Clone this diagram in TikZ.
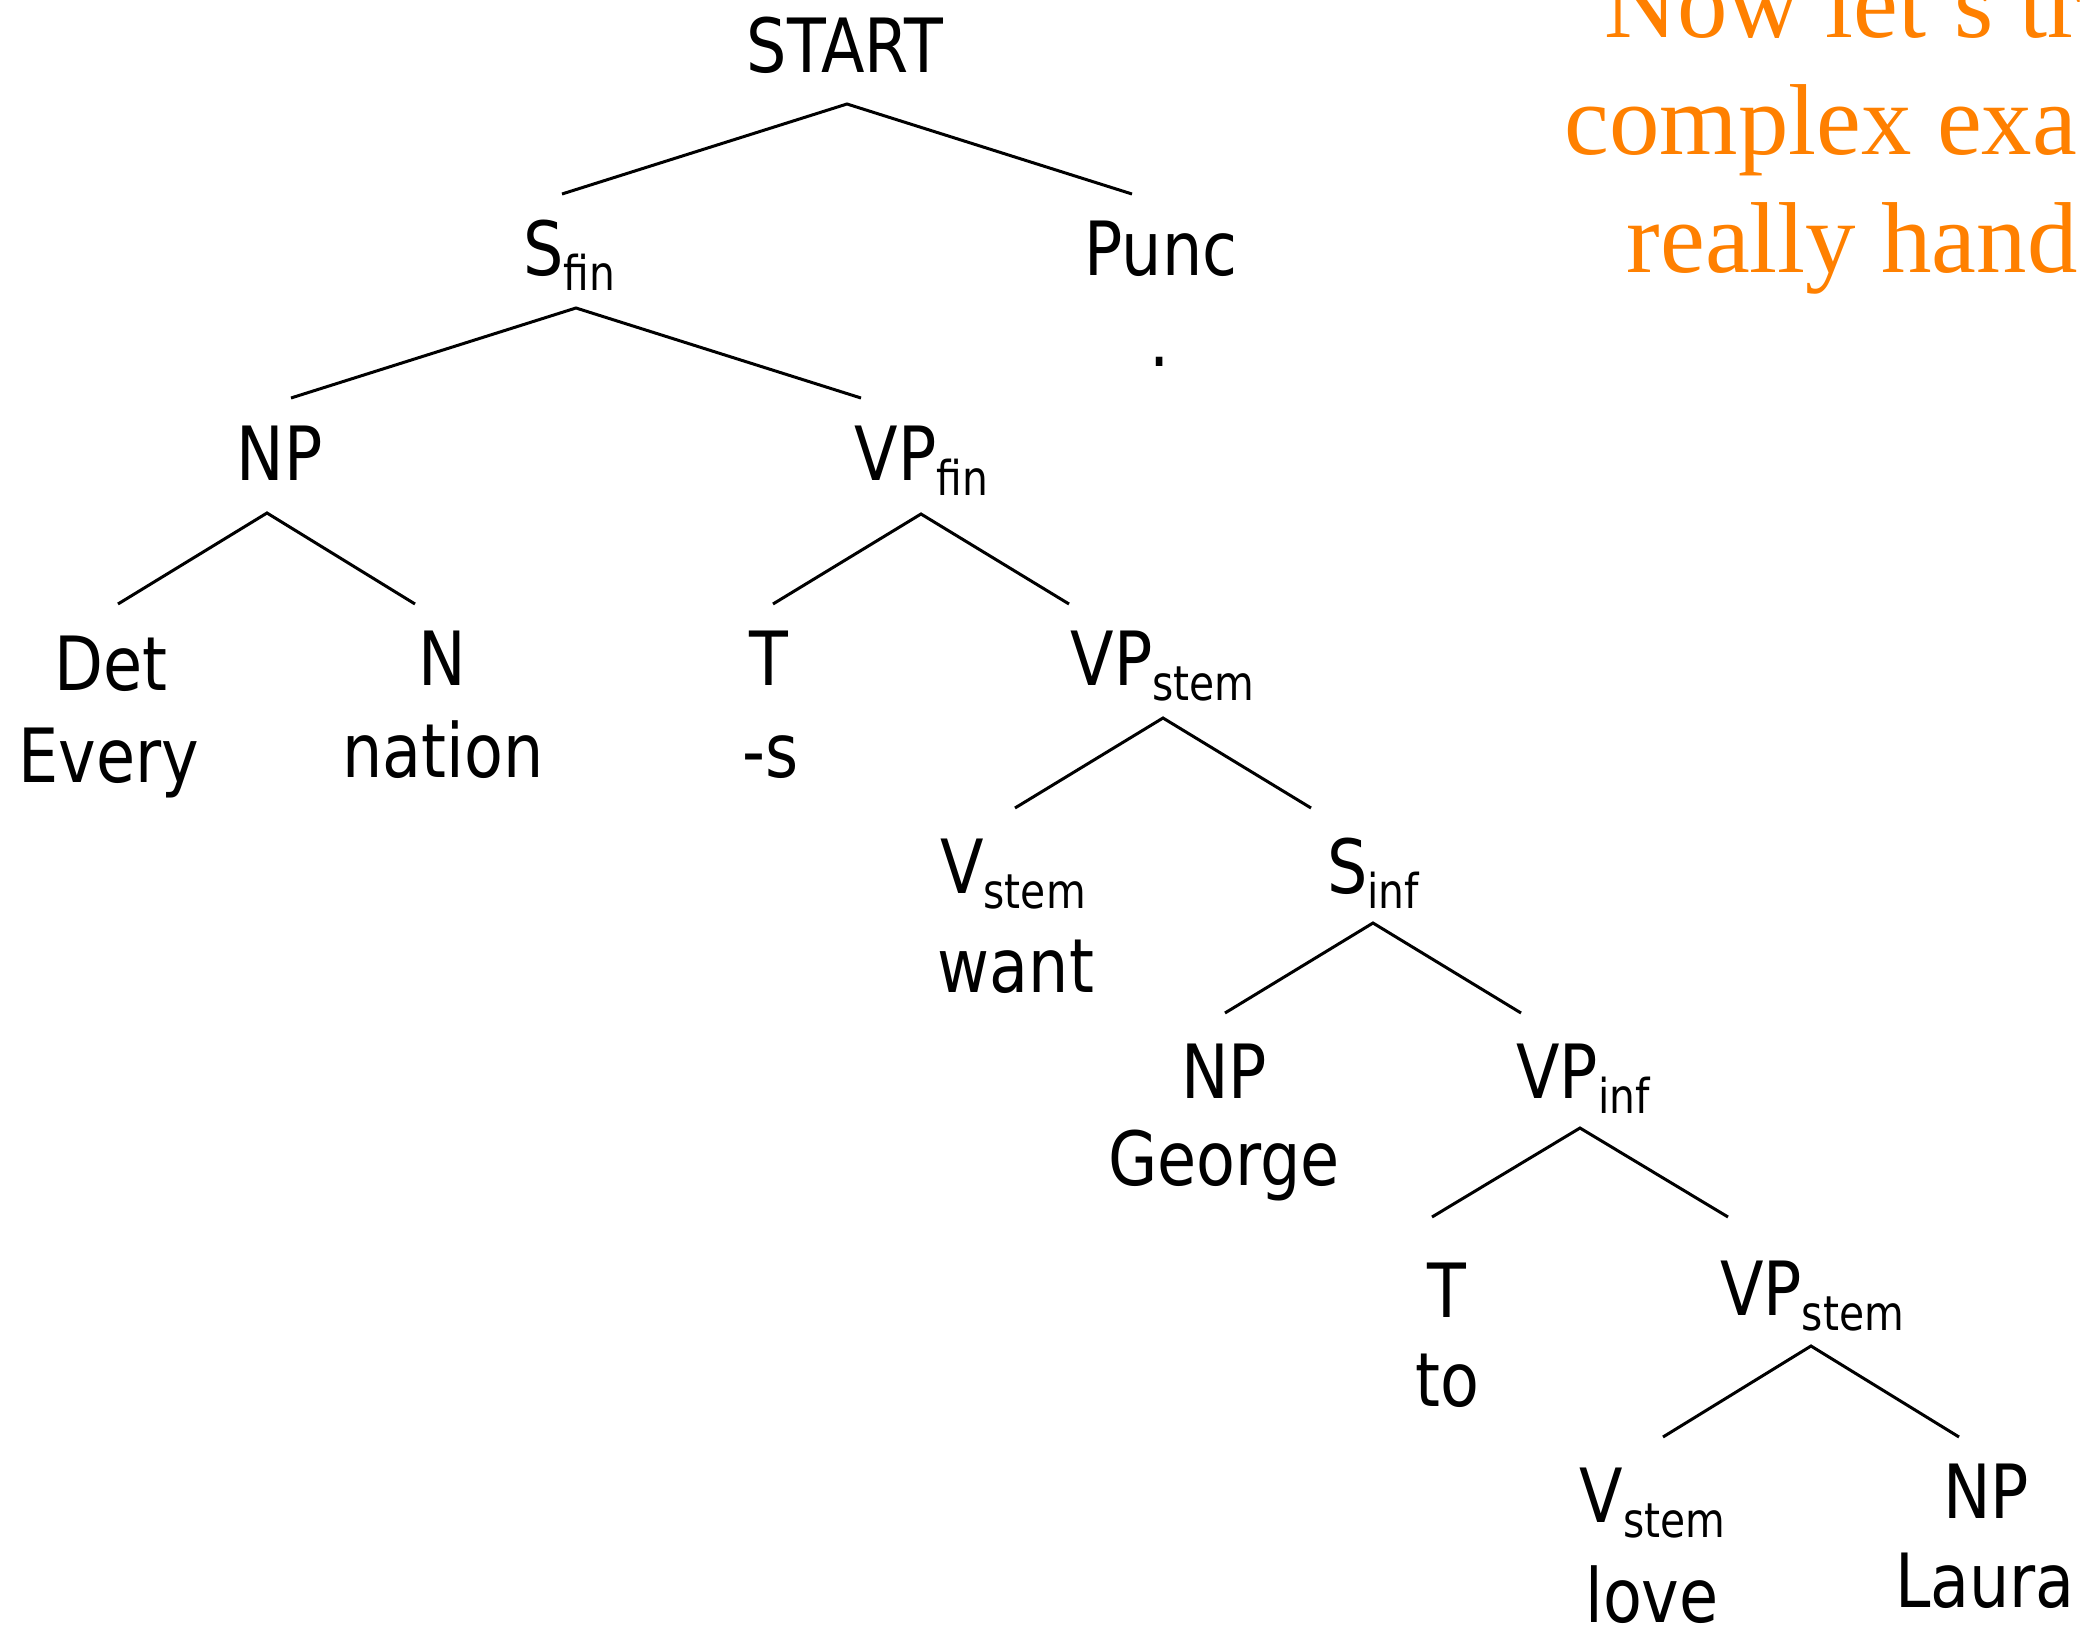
\documentclass[tikz,border=0pt]{standalone}
\usepackage{fontspec}
\setmainfont{DejaVu Sans}[FakeStretch=0.85]
\newfontfamily\notefont{Liberation Serif}
\definecolor{noteorange}{RGB}{255,128,0}
% lowered, smaller feature label (fin, stem, inf)
\newcommand\lsub[1]{\raisebox{-3.75pt}{\fontsize{12pt}{12pt}\selectfont #1}}
\begin{document}
\begin{tikzpicture}[x=0.25pt,y=-0.25pt,
  lbl/.style={anchor=base,inner sep=0pt,font=\fontsize{18.7pt}{22pt}\selectfont},
  note/.style={anchor=base west,inner sep=0pt,text=noteorange,
    font=\notefont\fontsize{25.2pt}{29pt}\selectfont},
  branch/.style={draw=black,line width=0.75pt,line join=miter}]
\useasboundingbox (0,0) rectangle (2080,1627);

% --- tree labels (category above, word below) ---
\node[lbl] (start)   at (845,72)    {START};
\node[lbl] (sfin)    at (569.5,275) {S\lsub{fin}};
\node[lbl] (punc)    at (1161,275)  {Punc};
\node[lbl] (dot)     at (1160,366)  {.};
\node[lbl] (np1)     at (279.5,480) {NP};
\node[lbl] (vpfin)   at (921.5,480) {VP\lsub{fin}};
\node[lbl] (det)     at (111,690)   {Det};
\node[lbl] (every)   at (109,782)   {Every};
\node[lbl] (n)       at (442,685)   {N};
\node[lbl] (nation)  at (443,777)   {nation};
\node[lbl] (t1)      at (769,685)   {T};
\node[lbl] (sfx)     at (771,777)   {-s};
\node[lbl] (vpstem1) at (1162.5,685){VP\lsub{stem}};
\node[lbl] (vstem1)  at (1013,893)  {V\lsub{stem}};
\node[lbl] (want)    at (1016,992)  {want};
\node[lbl] (sinf)    at (1373,893)  {S\lsub{inf}};
\node[lbl] (np2)     at (1224,1098) {NP};
\node[lbl] (george)  at (1224,1185) {George};
\node[lbl] (vpinf)   at (1583,1098) {VP\lsub{inf}};
\node[lbl] (t2)      at (1447,1317) {T};
\node[lbl] (to)      at (1447,1406) {to};
\node[lbl] (vpstem2) at (1812,1315) {VP\lsub{stem}};
\node[lbl] (vstem2)  at (1652.5,1522){V\lsub{stem}};
\node[lbl] (love)    at (1652,1622) {love};
\node[lbl] (np3)     at (1986,1518) {NP};
\node[lbl] (laura)   at (1985,1607) {Laura};

% --- branch points under each parent and above each child ---
\coordinate (start-fork)   at (847,104);
\coordinate (sfin-foot)    at (562,194);
\coordinate (punc-foot)    at (1132,194);
\coordinate (sfin-fork)    at (576,308);
\coordinate (np1-foot)     at (291,398);
\coordinate (vpfin-foot)   at (861,398);
\coordinate (np1-fork)     at (267,513);
\coordinate (det-foot)     at (118,604);
\coordinate (n-foot)       at (415,604);
\coordinate (vpfin-fork)   at (921,514);
\coordinate (t1-foot)      at (773,604);
\coordinate (vpstem1-foot) at (1069,604);
\coordinate (vpstem1-fork) at (1163,718);
\coordinate (vstem1-foot)  at (1015,808);
\coordinate (sinf-foot)    at (1311,808);
\coordinate (sinf-fork)    at (1373,923);
\coordinate (np2-foot)     at (1225,1013);
\coordinate (vpinf-foot)   at (1521,1013);
\coordinate (vpinf-fork)   at (1580,1128);
\coordinate (t2-foot)      at (1432,1217);
\coordinate (vpstem2-foot) at (1728,1217);
\coordinate (vpstem2-fork) at (1811,1346);
\coordinate (vstem2-foot)  at (1663,1437);
\coordinate (np3-foot)     at (1959,1437);

% --- branches ---
\draw[branch] (sfin-foot)    -- (start-fork)   -- (punc-foot);
\draw[branch] (np1-foot)     -- (sfin-fork)    -- (vpfin-foot);
\draw[branch] (det-foot)     -- (np1-fork)     -- (n-foot);
\draw[branch] (t1-foot)      -- (vpfin-fork)   -- (vpstem1-foot);
\draw[branch] (vstem1-foot)  -- (vpstem1-fork) -- (sinf-foot);
\draw[branch] (np2-foot)     -- (sinf-fork)    -- (vpinf-foot);
\draw[branch] (t2-foot)      -- (vpinf-fork)   -- (vpstem2-foot);
\draw[branch] (vstem2-foot)  -- (vpstem2-fork) -- (np3-foot);

% --- side note running off the right edge ---
\begin{scope}
\clip (0,0) rectangle (2080,1627);
\node[note] (note1) at (1604,37)  {Now let’s tr};
\node[note] (note2) at (1564,154) {complex exa};
\node[note] (note3) at (1626,272) {really hand};
\end{scope}
\end{tikzpicture}
\end{document}
